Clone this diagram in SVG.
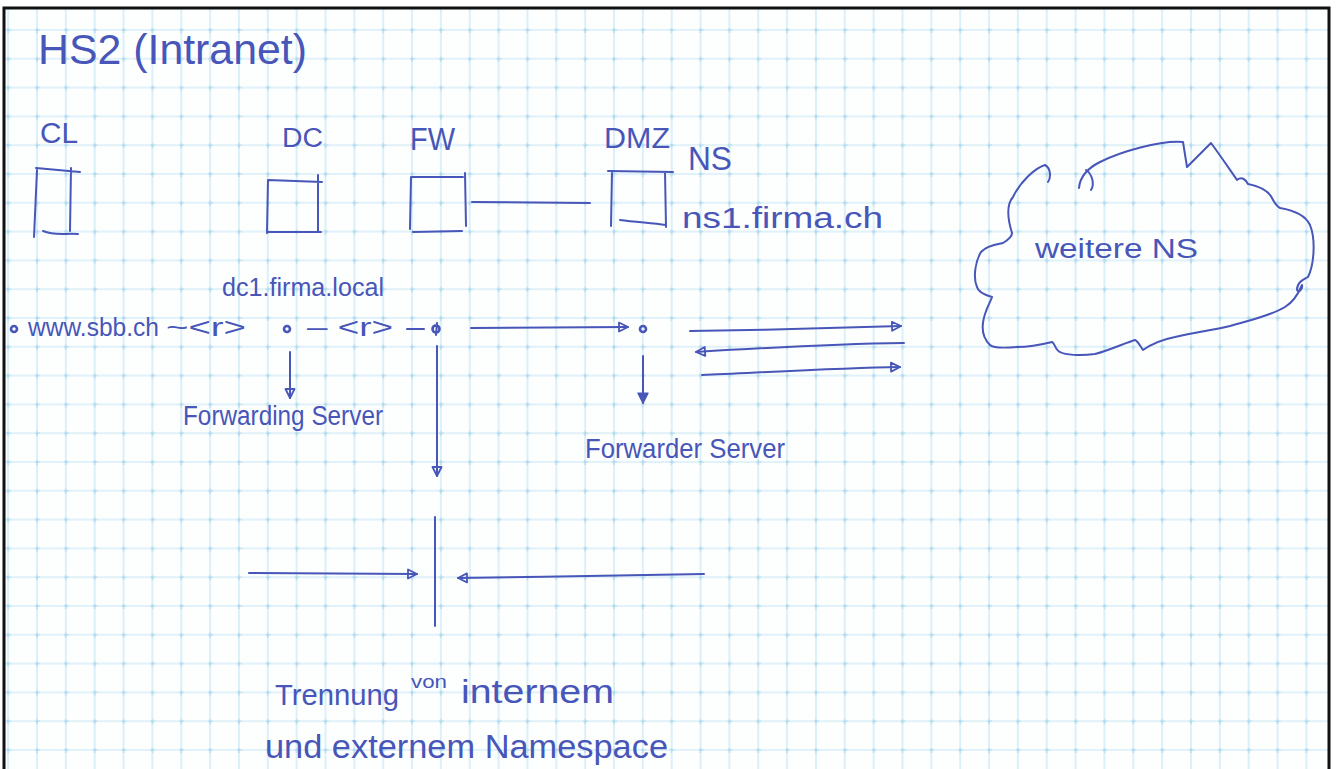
<svg xmlns="http://www.w3.org/2000/svg" width="1338" height="769" viewBox="0 0 1338 769">
<defs>
<style>
.ink{fill:none;stroke:#4756b8;stroke-width:2;stroke-linecap:round;stroke-linejoin:round}
.t{font-family:"Liberation Sans Narrow","Liberation Sans",Arial,sans-serif;fill:#4756b8}
.dot{fill:none;stroke:#4756b8;stroke-width:2.6}
</style>
<pattern id="grid" x="35" y="28" width="28.85" height="28.8" patternUnits="userSpaceOnUse">
<path d="M2,0 V28.8 M0,2 H28.85" stroke="#c6e6f5" stroke-width="1.2" fill="none"/>
<path d="M-1,2 H5 M2,-1 V5" stroke="#a8d6ee" stroke-width="1.2" fill="none"/>
</pattern>
<marker id="open" viewBox="0 0 12 12" refX="11" refY="6" markerWidth="12" markerHeight="12" markerUnits="userSpaceOnUse" orient="auto">
<path d="M2,1.5 L11,6 L2,10.5 Z" fill="none" stroke="#4756b8" stroke-width="1.8" stroke-linejoin="round"/>
</marker>
<marker id="solid" viewBox="0 0 12 12" refX="11" refY="6" markerWidth="13" markerHeight="13" markerUnits="userSpaceOnUse" orient="auto">
<path d="M2,1.5 L11,6 L2,10.5 Z" fill="#4756b8" stroke="#4756b8" stroke-width="1.5" stroke-linejoin="round"/>
</marker>
</defs>

<rect x="0" y="0" width="1338" height="769" fill="#ffffff"/>
<rect x="5" y="9" width="1323" height="760" fill="#fdfefe"/>
<rect x="5" y="9" width="1323" height="760" fill="url(#grid)"/>
<path d="M4,769 V8 H1329 V769" fill="none" stroke="#111" stroke-width="3"/>

<text class="t" x="38" y="64" font-size="42" textLength="269" lengthAdjust="spacingAndGlyphs">HS2 (Intranet)</text>

<g id="CL">
<text class="t" x="40" y="143" font-size="29" textLength="38" lengthAdjust="spacingAndGlyphs">CL</text>
<path class="ink" d="M36,168 L80,172 M37,170 L34,237 M71,168 L70,231 M43,231 C55,236 65,233 78,234"/>
</g>

<g id="DC">
<text class="t" x="282" y="147" font-size="27" textLength="41" lengthAdjust="spacingAndGlyphs">DC</text>
<path class="ink" d="M268,180 L322,182 M268,180 L267,233 M318,175 L318,232 M267,232 L321,232"/>
<text class="t" x="222" y="296" font-size="25" textLength="162" lengthAdjust="spacingAndGlyphs">dc1.firma.local</text>
</g>

<g id="FW">
<text class="t" x="410" y="150" font-size="31" textLength="45" lengthAdjust="spacingAndGlyphs">FW</text>
<path class="ink" d="M412,177 L463,177 M411,177 L410,229 M465,173 L466,226 M413,232 L462,231"/>
</g>

<g id="DMZ">
<text class="t" x="604" y="148" font-size="30" textLength="66" lengthAdjust="spacingAndGlyphs">DMZ</text>
<text class="t" x="688" y="170" font-size="34" textLength="44" lengthAdjust="spacingAndGlyphs">NS</text>
<path class="ink" d="M608,171 L673,172 M612,172 L611,226 M665,172 L666,227 M620,220 C635,222 650,223 666,225"/>
<text class="t" x="682" y="228" font-size="30" textLength="201" lengthAdjust="spacingAndGlyphs">ns1.firma.ch</text>
</g>

<g id="cloud">
<path class="ink" d="M1012,233 C1008,220 1006,205 1013,197 C1020,182 1035,168 1045,165 C1051,168 1051,178 1048,182"/>
<path class="ink" d="M1079,188 C1080,176 1088,168 1100,162 C1120,152 1160,140 1183,142 L1187,167 L1211,143 C1220,155 1230,170 1237,180 C1242,176 1246,180 1248,184 C1258,186 1268,190 1272,198 C1275,204 1278,207 1280,208 C1292,210 1305,214 1310,225 C1316,240 1314,265 1308,277 C1303,280 1297,282 1297,290 C1298,293 1303,290 1302,285 C1297,297 1290,304 1285,307 C1270,316 1250,320 1230,326 C1215,330 1195,332 1175,337 C1160,340 1150,345 1143,350 C1140,346 1138,341 1135,340 C1125,343 1110,350 1095,354 C1080,356 1065,355 1060,352 C1055,350 1055,343 1052,342 C1040,345 1025,347 1017,347 C1005,348 993,348 990,345 C983,338 982,330 983,323 C984,312 990,303 992,297 C985,295 978,292 977,287 C973,278 975,262 981,252 C987,245 998,244 1003,243 C1008,240 1012,236 1012,233"/>
<path class="ink" d="M1086,170 C1092,174 1095,184 1091,190"/>
<text class="t" x="1035" y="258" font-size="27" textLength="163" lengthAdjust="spacingAndGlyphs">weitere NS</text>
</g>

<g id="query">
<circle class="dot" cx="14" cy="329" r="3"/>
<text class="t" x="28" y="336" font-size="25" textLength="131" lengthAdjust="spacingAndGlyphs">www.sbb.ch</text>
<text class="t" x="166" y="336" font-size="25" textLength="80" lengthAdjust="spacingAndGlyphs">~&lt;r&gt;</text>
<circle class="dot" cx="287" cy="329" r="3"/>
<text class="t" x="307" y="336" font-size="25" textLength="86" lengthAdjust="spacingAndGlyphs">– &lt;r&gt;</text>
<path class="ink" d="M407,329 L424,329"/>
<circle class="dot" cx="436" cy="329" r="3.5"/>
<path class="ink" d="M437,323 L436,335"/>
<circle class="dot" cx="643" cy="329" r="3"/>
<text class="t" x="183" y="425" font-size="27" textLength="200" lengthAdjust="spacingAndGlyphs">Forwarding Server</text>
<text class="t" x="585" y="458" font-size="28" textLength="200" lengthAdjust="spacingAndGlyphs">Forwarder Server</text>
</g>

<g id="separator">
<path class="ink" d="M435,517 L435,626"/>
<text class="t" x="275" y="705" font-size="29" textLength="124" lengthAdjust="spacingAndGlyphs">Trennung</text>
<text class="t" x="411" y="688" font-size="19" textLength="36" lengthAdjust="spacingAndGlyphs">von</text>
<text class="t" x="461" y="703" font-size="34" textLength="153" lengthAdjust="spacingAndGlyphs">internem</text>
<text class="t" x="265" y="758" font-size="34" textLength="403" lengthAdjust="spacingAndGlyphs">und externem Namespace</text>
</g>

<g id="connectors">
<path class="ink" d="M472,202 L590,203"/>
<path class="ink" d="M471,328 L628,327" marker-end="url(#open)"/>
<path class="ink" d="M290,352 L290,398" marker-end="url(#open)"/>
<path class="ink" d="M437,346 L437,476" marker-end="url(#open)"/>
<path class="ink" d="M643,356 L643,403" marker-end="url(#solid)"/>
<path class="ink" d="M690,331 C760,330 840,328 901,326" marker-end="url(#open)"/>
<path class="ink" d="M904,343 C830,344 760,348 696,352" marker-end="url(#open)"/>
<path class="ink" d="M702,375 C770,372 840,368 900,367" marker-end="url(#open)"/>
<path class="ink" d="M249,573 L417,574" marker-end="url(#open)"/>
<path class="ink" d="M704,574 C640,575 540,577 458,578" marker-end="url(#open)"/>
</g>
</svg>
